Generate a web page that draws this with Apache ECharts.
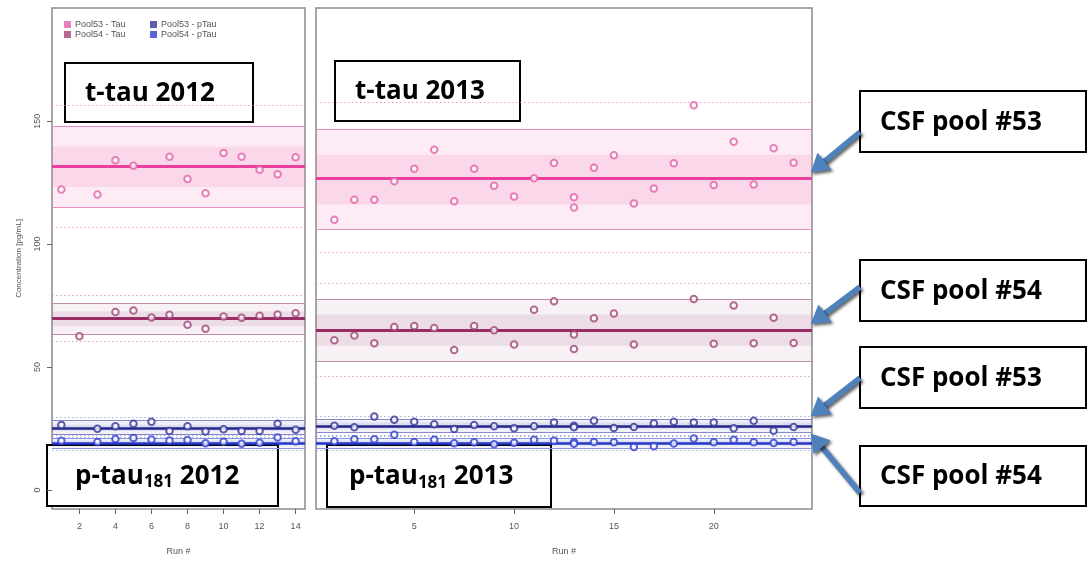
<!DOCTYPE html>
<html><head><meta charset="utf-8">
<script src="https://cdn.jsdelivr.net/npm/echarts@6/dist/echarts.min.js"></script>
<style>html,body{margin:0;padding:0;background:#fff}#main{width:1088px;height:561px}</style>
</head><body><div id="main"></div>
<script>
// ---------- data ----------
const yTicks = [0, 50, 100, 150];
const xTicks2012 = [2, 4, 6, 8, 10, 12, 14];
const xTicks2013 = [5, 10, 15, 20];
const seriesNames = ['Pool53 - Tau', 'Pool54 - Tau', 'Pool53 - pTau', 'Pool54 - pTau'];

const tau53_2012 = [[1,122.2],[3,120.2],[4,134.1],[5,131.9],[7,135.5],[8,126.5],[9,120.7],[10,137.0],[11,135.5],[12,130.2],[13,128.4],[14,135.3]];
const tau54_2012 = [[2,62.5],[4,72.4],[5,73.0],[6,70.2],[7,71.3],[8,67.2],[9,65.6],[10,70.6],[11,70.1],[12,70.9],[13,71.4],[14,71.9]];
const ptau53_2012 = [[1,26.5],[3,24.9],[4,25.9],[5,27.0],[6,27.8],[7,24.0],[8,25.9],[9,23.8],[10,24.7],[11,24.0],[12,24.0],[13,27.0],[14,24.5]];
const ptau54_2012 = [[1,20.0],[3,19.5],[4,20.8],[5,21.2],[6,20.6],[7,20.2],[8,20.4],[9,19.0],[10,19.6],[11,18.8],[12,19.2],[13,21.4],[14,19.8]];

const tau53_2013 = [[1,109.9],[2,118.0],[3,118.0],[4,125.6],[5,130.6],[6,138.4],[7,117.4],[8,130.6],[9,123.7],[10,119.4],[11,126.8],[12,133.0],[13,119.1],[13,114.9],[14,131.0],[15,136.1],[16,116.5],[17,122.6],[18,132.9],[19,156.5],[20,124.0],[21,141.6],[22,124.2],[23,139.0],[24,133.1]];
const tau54_2013 = [[1,60.9],[2,62.8],[3,59.7],[4,66.3],[5,66.7],[6,65.9],[7,56.9],[8,66.7],[9,65.0],[10,59.2],[11,73.3],[12,76.8],[13,63.3],[13,57.4],[14,69.9],[15,71.8],[16,59.2],[19,77.7],[20,59.5],[21,75.0],[22,59.7],[23,70.1],[24,59.8]];
const ptau53_2013 = [[1,26.1],[2,25.5],[3,29.9],[4,28.6],[5,27.8],[6,26.8],[7,24.8],[8,26.5],[9,25.9],[10,25.1],[11,25.9],[12,27.5],[13,26.1],[13,25.5],[14,28.2],[15,25.2],[16,25.6],[17,27.2],[18,27.8],[19,27.5],[20,27.5],[21,25.1],[22,28.2],[23,24.1],[24,25.6]];
const ptau54_2013 = [[1,19.8],[2,20.7],[3,20.7],[4,22.5],[5,19.5],[6,20.5],[7,19.0],[8,19.4],[9,18.6],[10,19.2],[11,20.5],[12,20.1],[13,19.5],[13,18.8],[14,19.5],[15,19.4],[16,17.5],[17,17.8],[18,18.9],[19,21.0],[20,19.4],[21,20.5],[22,19.4],[23,19.1],[24,19.5]];

// control limits: [mean, innerLo, innerHi, outerLo, outerHi, dottedLo, dottedHi]
const bandTau53_2012 = [131.6, 123.2, 139.7, 114.8, 148.1, 106.7, 156.5];
const bandTau54_2012 = [69.7, 66.6, 72.6, 63.3, 76.1, 60.5, 79.1];
const bandPtau53_2012 = [25.2, 24.0, 26.6, 22.6, 28.4, 21.4, 29.6];
const bandPtau54_2012 = [19.1, 18.2, 20.1, 17.2, 21.1, 16.2, 22.3];
const bandTau53_2013 = [126.8, 116.1, 136.3, 106.0, 146.9, 96.6, 157.6];
const bandTau54_2013 = [65.0, 58.7, 71.4, 52.5, 77.7, 46.4, 84.1];
const bandPtau53_2013 = [26.1, 24.8, 27.5, 23.4, 28.8, 22.0, 30.2];
const bandPtau54_2013 = [19.1, 18.2, 20.1, 17.2, 21.0, 16.2, 22.2];

// ---------- styles ----------
const sty = {
  'Pool53 - Tau':  {pt:'#e262aa', mean:'#ea3f9c', lim:'#ec8cc0', dot:'rgba(230,120,175,0.7)', fo:'rgba(240,110,180,0.13)', fi:'rgba(240,110,180,0.17)', mw:3},
  'Pool54 - Tau':  {pt:'#a0467a', mean:'#982c64', lim:'#c48cac', dot:'rgba(200,120,160,0.7)', fo:'rgba(150,60,110,0.08)', fi:'rgba(150,60,110,0.11)', mw:3},
  'Pool53 - pTau': {pt:'#34349a', mean:'#24248a', lim:'#8888c8', dot:'rgba(120,120,200,0.6)', fo:'rgba(60,60,170,0.08)', fi:'rgba(60,60,170,0.10)', mw:2.5},
  'Pool54 - pTau': {pt:'#3040d0', mean:'#2636c8', lim:'#8a94e0', dot:'rgba(120,130,220,0.6)', fo:'rgba(50,70,210,0.08)', fi:'rgba(50,70,210,0.10)', mw:2.5}
};

function mkSeries(name, data, band, idx) {
  const s = sty[name];
  return {
    name, type:'scatter', xAxisIndex: idx, yAxisIndex: idx, data,
    symbol:'emptyCircle', symbolSize:6.5,
    itemStyle:{color:s.pt, borderWidth:1.6},
    z: 5,
    markArea:{silent:true, data:[
      [{yAxis:band[3], itemStyle:{color:s.fo}}, {yAxis:band[4]}],
      [{yAxis:band[1], itemStyle:{color:s.fi}}, {yAxis:band[2]}]
    ]},
    markLine:{silent:true, symbol:'none', label:{show:false}, animation:false, data:[
      {yAxis:band[0], lineStyle:{color:s.mean, width:s.mw, type:'solid'}},
      {yAxis:band[3], lineStyle:{color:s.lim, width:1, type:'solid'}},
      {yAxis:band[4], lineStyle:{color:s.lim, width:1, type:'solid'}},
      {yAxis:band[5], lineStyle:{color:s.dot, width:1, type:[1.5,2.5]}},
      {yAxis:band[6], lineStyle:{color:s.dot, width:1, type:[1.5,2.5]}}
    ]}
  };
}

const axisTxt = {color:'#555', fontSize:9, fontFamily:'Liberation Sans'};
const tickStyle = {show:true, inside:false, length:5, lineStyle:{color:'#666', width:1}};

const option = {
  animation:false,
  backgroundColor:'#fff',
  grid:[
    {left:52, top:8, width:253, height:505, show:true, borderColor:'#8a8a8a', borderWidth:1.5, backgroundColor:'transparent'},
    {left:316, top:8, width:496, height:505, show:true, borderColor:'#8a8a8a', borderWidth:1.5, backgroundColor:'transparent'}
  ],
  xAxis:[
    {gridIndex:0, type:'value', min:0.48, max:14.52, splitLine:{show:false}, axisLine:{show:false, onZero:false},
     axisTick:{...tickStyle, customValues:xTicks2012},
     axisLabel:{...axisTxt, margin:13, customValues:xTicks2012},
     name:'Run #', nameLocation:'middle', nameGap:38, nameTextStyle:axisTxt},
    {gridIndex:1, type:'value', min:0.08, max:24.92, splitLine:{show:false}, axisLine:{show:false, onZero:false},
     axisTick:{...tickStyle, customValues:xTicks2013},
     axisLabel:{...axisTxt, margin:13, customValues:xTicks2013},
     name:'Run #', nameLocation:'middle', nameGap:38, nameTextStyle:axisTxt}
  ],
  yAxis:[
    {gridIndex:0, type:'value', min:-7.7, max:196, splitLine:{show:false}, axisLine:{show:false, onZero:false},
     axisTick:{...tickStyle, customValues:yTicks},
     axisLabel:{...axisTxt, rotate:90, margin:10, customValues:yTicks},
     name:'Concentration [pg/mL]', nameLocation:'middle', nameGap:29, nameRotate:90, nameTextStyle:{...axisTxt, fontSize:8}},
    {gridIndex:1, type:'value', min:-7.7, max:196, show:true, splitLine:{show:false}, axisLine:{show:false, onZero:false},
     axisTick:{show:false}, axisLabel:{show:false}}
  ],
  legend:[
    {data:['Pool53 - Tau','Pool54 - Tau'], orient:'vertical', left:59, top:15, icon:'rect', itemWidth:7, itemHeight:7, itemGap:1,
     textStyle:{color:'#555', fontSize:9, fontFamily:'Liberation Sans', padding:[0,0,0,-1]}, selectedMode:false},
    {data:['Pool53 - pTau','Pool54 - pTau'], orient:'vertical', left:145, top:15, icon:'rect', itemWidth:7, itemHeight:7, itemGap:1,
     textStyle:{color:'#555', fontSize:9, fontFamily:'Liberation Sans', padding:[0,0,0,-1]}, selectedMode:false}
  ],
  series:[
    mkSeries('Pool53 - Tau', tau53_2012, bandTau53_2012, 0),
    mkSeries('Pool54 - Tau', tau54_2012, bandTau54_2012, 0),
    mkSeries('Pool53 - pTau', ptau53_2012, bandPtau53_2012, 0),
    mkSeries('Pool54 - pTau', ptau54_2012, bandPtau54_2012, 0),
    mkSeries('Pool53 - Tau', tau53_2013, bandTau53_2013, 1),
    mkSeries('Pool54 - Tau', tau54_2013, bandTau54_2013, 1),
    mkSeries('Pool53 - pTau', ptau53_2013, bandPtau53_2013, 1),
    mkSeries('Pool54 - pTau', ptau54_2013, bandPtau54_2013, 1)
  ]
};

const chart = echarts.init(document.getElementById('main'), null, {renderer:'canvas'});
chart.setOption(option);

// ---------- annotation boxes and arrows ----------
const boxFont = 'bold 26px "Open Sans"';
const rich = {
  m:{font:boxFont, fill:'#000'},
  s:{fontFamily:'Open Sans', fontWeight:'bold', fontSize:17, fill:'#000', padding:[12,0,0,0]}
};
function box(x, y, w, h, text, tx) {
  return {type:'group', z:100, children:[
    {type:'rect', shape:{x, y, width:w, height:h}, style:{fill:'#fff', stroke:'#000', lineWidth:2}},
    {type:'text', style:{x:tx, y:y + h/2 + 1, text, rich, font:boxFont, fill:'#000', align:'left', verticalAlign:'middle'}}
  ]};
}
function arrow(tail, tip) {
  const dx = tip[0]-tail[0], dy = tip[1]-tail[1];
  const L = Math.sqrt(dx*dx+dy*dy), ux = dx/L, uy = dy/L, px = -uy, py = ux;
  const hl = 18, hw = 11;
  const bx = tip[0]-ux*hl, by = tip[1]-uy*hl;
  const shadow = {shadowBlur:3, shadowColor:'rgba(0,0,0,0.6)', shadowOffsetX:2, shadowOffsetY:2};
  return {type:'group', z:101, children:[
    {type:'line', shape:{x1:tail[0], y1:tail[1], x2:bx+ux*2, y2:by+uy*2}, style:{stroke:'#4f81bd', lineWidth:5.5, ...shadow}},
    {type:'polygon', shape:{points:[[tip[0],tip[1]],[bx+px*hw,by+py*hw],[bx-px*hw,by-py*hw]]}, style:{fill:'#4f81bd', ...shadow}}
  ]};
}
const fr = (v) => chart.convertToPixel({xAxisIndex:1, yAxisIndex:1}, [24.85, v]);
chart.setOption({graphic:[
  box(65, 63, 188, 59, '{m|t-tau 2012}', 85),
  box(335, 61, 185, 60, '{m|t-tau 2013}', 355),
  box(47, 445, 231, 61, '{m|p-tau}{s|181}{m| 2012}', 75),
  box(327, 445, 224, 62, '{m|p-tau}{s|181}{m| 2013}', 349),
  box(860, 91, 226, 61, '{m|CSF pool #53}', 880),
  box(860, 260, 226, 61, '{m|CSF pool #54}', 880),
  box(860, 347, 226, 61, '{m|CSF pool #53}', 880),
  box(860, 446, 226, 60, '{m|CSF pool #54}', 880),
  arrow([860,132], fr(129)),
  arrow([860,287], fr(67.5)),
  arrow([860,378], fr(30)),
  arrow([860,493], fr(23))
]});
</script>
</body></html>
